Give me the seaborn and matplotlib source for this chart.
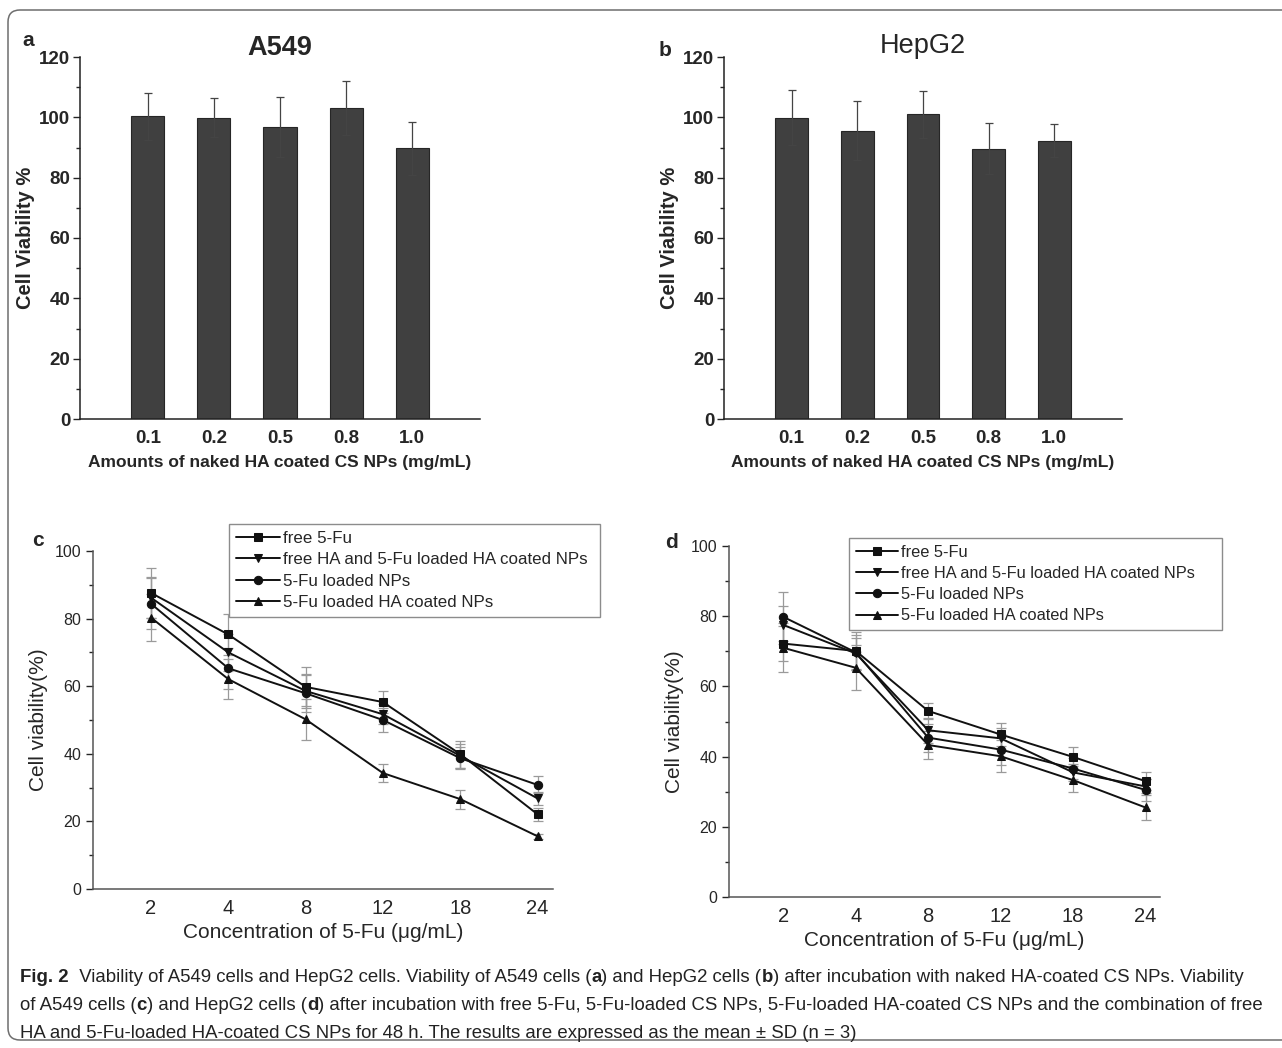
import numpy as np
import pandas as pd
import seaborn as sns
import matplotlib.pyplot as plt
from matplotlib.patches import FancyBboxPatch
from matplotlib.ticker import MultipleLocator
from matplotlib.transforms import IdentityTransform

# panels a / b : naked HA coated CS NPs
DOSES = ["0.1", "0.2", "0.5", "0.8", "1.0"]
A549_BAR = [100.3, 99.9, 96.8, 103.2, 89.7]
A549_BAR_SD = [7.8, 6.4, 9.8, 8.9, 8.9]
HEPG2_BAR = [99.9, 95.5, 101.0, 89.6, 92.3]
HEPG2_BAR_SD = [9.0, 9.8, 7.8, 8.4, 5.6]

# panels c / d : 5-Fu formulations
CONC = ["2", "4", "8", "12", "18", "24"]
SERIES = ["free 5-Fu", "free HA and 5-Fu loaded HA coated NPs",
          "5-Fu loaded NPs", "5-Fu loaded HA coated NPs"]
MARKERS = ["s", "v", "o", "^"]

A549_FREE = [87.6, 75.3, 59.8, 55.3, 39.9, 22.1]
A549_COMBO = [86.2, 70.0, 58.6, 51.7, 39.4, 26.8]
A549_NPS = [84.4, 65.3, 57.9, 50.0, 38.7, 30.8]
A549_HA = [80.3, 62.1, 50.2, 34.3, 26.6, 15.6]
A549_FREE_SD = [7.5, 6.2, 5.8, 3.3, 4.0, 2.0]
A549_COMBO_SD = [6.0, 5.5, 5.0, 3.0, 3.5, 1.8]
A549_NPS_SD = [7.5, 6.0, 5.5, 3.5, 3.2, 2.5]
A549_HA_SD = [7.0, 5.8, 6.0, 2.6, 2.8, 0.8]

HEPG2_FREE = [72.2, 70.1, 53.0, 46.3, 39.9, 33.0]
HEPG2_COMBO = [77.5, 69.4, 47.5, 45.2, 35.5, 31.5]
HEPG2_NPS = [79.8, 69.7, 45.4, 42.0, 36.6, 30.5]
HEPG2_HA = [71.0, 65.3, 43.3, 40.1, 33.3, 25.5]
HEPG2_FREE_SD = [5.0, 5.5, 2.3, 3.3, 2.7, 2.5]
HEPG2_COMBO_SD = [5.5, 4.5, 3.5, 3.0, 2.5, 2.0]
HEPG2_NPS_SD = [7.0, 5.0, 4.0, 4.5, 3.0, 3.2]
HEPG2_HA_SD = [7.0, 6.4, 4.0, 4.5, 3.4, 3.5]

sns.set_style("ticks")
plt.rcParams["font.family"] = ["Liberation Sans", "DejaVu Sans"]

W, H = 1282, 1048
fig = plt.figure(figsize=(W / 100, H / 100), dpi=100)


def px_axes(l, t, r, b):
    return fig.add_axes([l / W, 1 - b / H, (r - l) / W, (b - t) / H])


def bar_panel(ax, vals, sd, title, title_weight, title_pad):
    sns.barplot(x=DOSES, y=vals, color="#404040", width=0.5,
                edgecolor="#262626", linewidth=0.8, saturation=1, ax=ax)
    ax.errorbar(np.arange(len(DOSES)), vals, yerr=sd, fmt="none",
                ecolor="#444444", elinewidth=0.9, capsize=3, capthick=0.9)
    ax.set_xlim(-1.03, 5.03)
    ax.set_ylim(0, 120)
    ax.yaxis.set_major_locator(MultipleLocator(20))
    ax.yaxis.set_minor_locator(MultipleLocator(10))
    ax.tick_params(axis="y", which="major", length=5, width=1, direction="out", pad=2)
    ax.tick_params(axis="y", which="minor", length=3, width=1, direction="out")
    ax.tick_params(axis="x", length=0, pad=8)
    for lab in ax.get_xticklabels() + ax.get_yticklabels():
        lab.set_fontweight("bold")
        lab.set_fontsize(13.5)
    ax.set_xlabel("Amounts of naked HA coated CS NPs (mg/mL)",
                  fontweight="bold", fontsize=12.5, labelpad=6)
    ax.set_ylabel("Cell Viability %", fontweight="bold",
                  fontsize=14.5, labelpad=3)
    # explicit y keeps matplotlib from pushing the title above the tick labels
    ax.set_title(title, fontsize=19.5, fontweight=title_weight, y=1.0, pad=title_pad)
    sns.despine(ax=ax)
    for s in ("left", "bottom"):
        ax.spines[s].set_linewidth(1.1)
        ax.spines[s].set_color("#222222")


def line_panel(ax, vals, sds, legend_box, legend_fs):
    df = pd.DataFrame({
        "pos": np.tile(np.arange(len(CONC)), len(SERIES)),
        "viab": np.concatenate(vals),
        "series": np.repeat(SERIES, len(CONC)),
    })
    for v, s in zip(vals, sds):
        ax.errorbar(np.arange(len(CONC)), v, yerr=s, fmt="none",
                    ecolor="#9a9a9a", elinewidth=0.9, capsize=3.5,
                    capthick=0.9, zorder=1)
    sns.lineplot(data=df, x="pos", y="viab", hue="series", style="series",
                 markers=dict(zip(SERIES, MARKERS)), dashes=False,
                 palette=["#111111"] * 4, markersize=6, linewidth=1.4,
                 markeredgecolor="#111111", ax=ax, zorder=3)
    ax.set_xlim(-0.75, 5.2)
    ax.set_ylim(0, 100)
    ax.set_xticks(np.arange(len(CONC)))
    ax.set_xticklabels(CONC, fontsize=14.5)
    ax.yaxis.set_major_locator(MultipleLocator(20))
    ax.yaxis.set_minor_locator(MultipleLocator(10))
    ax.tick_params(axis="y", which="major", length=5, width=1, labelsize=11.5)
    ax.tick_params(axis="y", which="minor", length=3, width=1)
    ax.tick_params(axis="x", length=0, pad=7)
    ax.set_xlabel("Concentration of 5-Fu (\u03bcg/mL)", fontsize=15, labelpad=4)
    ax.set_ylabel("Cell viability(%)", fontsize=15, labelpad=5)
    sns.despine(ax=ax)
    for s in ("left", "bottom"):
        ax.spines[s].set_linewidth(1.1)
        ax.spines[s].set_color("#555555")
    l, t, r, b = legend_box
    handles, labels = ax.get_legend_handles_labels()
    ax.legend(handles, labels, loc="upper left", mode="expand",
              bbox_to_anchor=(l / W, 1 - b / H, (r - l) / W, (b - t) / H),
              bbox_transform=fig.transFigure, frameon=True, fancybox=False,
              edgecolor="#8c8c8c", framealpha=1, fontsize=legend_fs,
              handlelength=2.6, handletextpad=0.2, labelspacing=0.38,
              borderpad=0.4, borderaxespad=0)


ax_a = px_axes(80, 57, 480, 419)
bar_panel(ax_a, A549_BAR, A549_BAR_SD, "A549", "bold", 1.5)
ax_b = px_axes(724, 57, 1122, 419)
bar_panel(ax_b, HEPG2_BAR, HEPG2_BAR_SD, "HepG2", "normal", 3)

ax_c = px_axes(93, 551, 553, 889)
line_panel(ax_c, [A549_FREE, A549_COMBO, A549_NPS, A549_HA],
           [A549_FREE_SD, A549_COMBO_SD, A549_NPS_SD, A549_HA_SD],
           (229, 524, 600, 611), 12.2)
ax_d = px_axes(729, 546, 1160, 897)
line_panel(ax_d, [HEPG2_FREE, HEPG2_COMBO, HEPG2_NPS, HEPG2_HA],
           [HEPG2_FREE_SD, HEPG2_COMBO_SD, HEPG2_NPS_SD, HEPG2_HA_SD],
           (849, 538, 1222, 627), 11.8)

# panel letters
for letter, x, y in [("a", 28, 40), ("b", 665, 50), ("c", 38, 540), ("d", 672, 542)]:
    fig.text(x / W, 1 - y / H, letter, fontsize=15, fontweight="bold",
             va="center", ha="center")

# rounded frame around the figure
frame = FancyBboxPatch((8, 8), 1300, 1030, boxstyle="round,pad=0,rounding_size=12",
                       transform=IdentityTransform(), fill=False,
                       edgecolor="#6e6e6e", linewidth=1.1)
fig.patches.append(frame)

# caption with bold fragments
CAPTION = [
    [("Fig. 2", "bold"), ("  Viability of A549 cells and HepG2 cells. Viability of A549 cells (", "normal"),
     ("a", "bold"), (") and HepG2 cells (", "normal"), ("b", "bold"),
     (") after incubation with naked HA-coated CS NPs. Viability", "normal")],
    [("of A549 cells (", "normal"), ("c", "bold"), (") and HepG2 cells (", "normal"), ("d", "bold"),
     (") after incubation with free 5-Fu, 5-Fu-loaded CS NPs, 5-Fu-loaded HA-coated CS NPs and the combination of free", "normal")],
    [("HA and 5-Fu-loaded HA-coated CS NPs for 48 h. The results are expressed as the mean \u00b1 SD (n = 3)", "normal")],
]
renderer = fig.canvas.get_renderer()
for i, parts in enumerate(CAPTION):
    x = 20
    y = H - (977 + i * 28)
    for txt, weight in parts:
        t = fig.text(x, y, txt, fontsize=13.4, fontweight=weight,
                     color="#222222", va="center", ha="left",
                     transform=IdentityTransform())
        x += t.get_window_extent(renderer).width

fig.savefig("out.png", dpi=100)
